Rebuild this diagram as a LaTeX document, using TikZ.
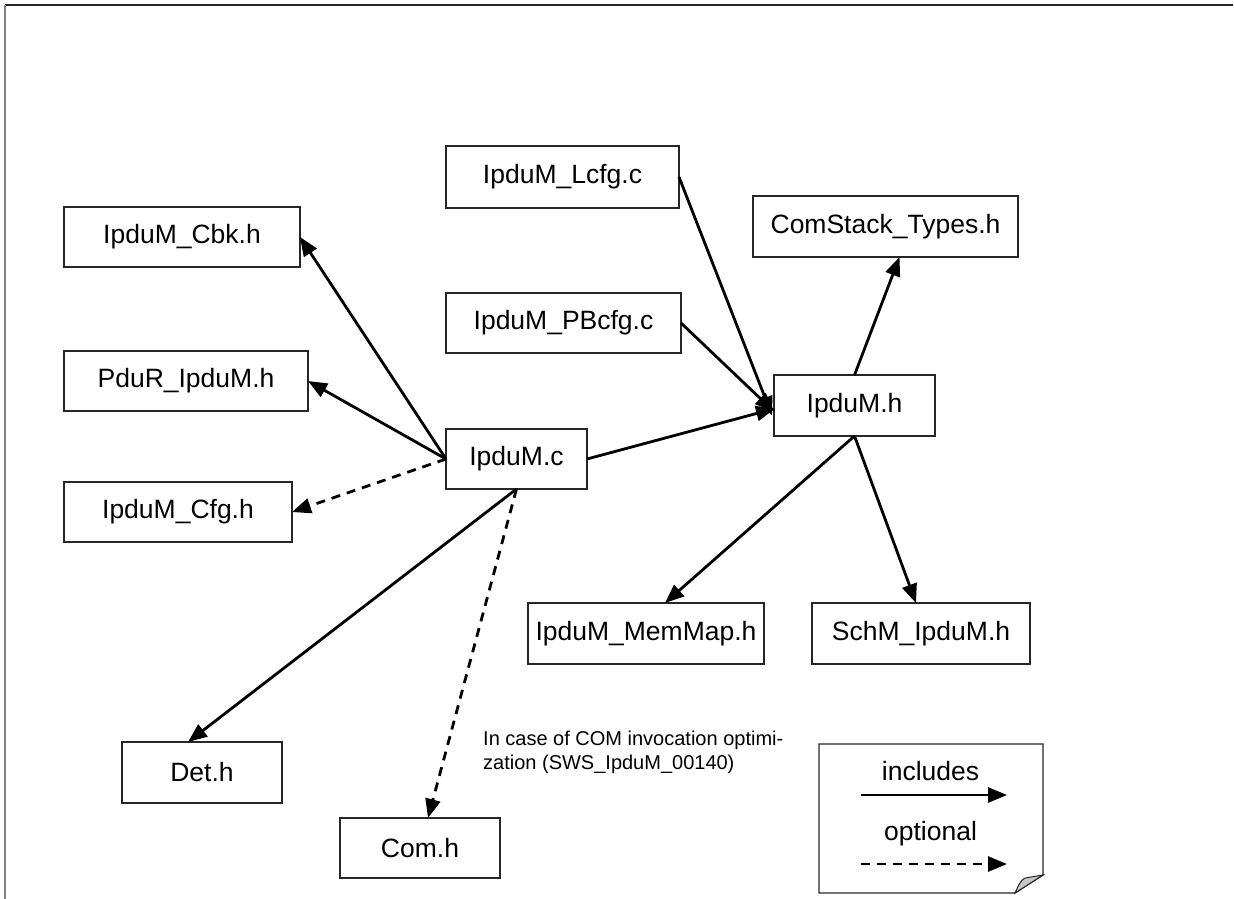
\documentclass[tikz,border=0pt]{standalone}
\usepackage{fontspec}
\setmainfont{Liberation Sans}
\usetikzlibrary{arrows.meta,calc}
\begin{document}
\begin{tikzpicture}[x=1pt,y=-1pt,
  box/.style={draw=black!85,line width=1.3pt,inner sep=0pt,outer sep=0pt,font=\fontsize{26.5}{30}\selectfont},
  inc/.style={line width=2.8pt,-{Triangle[length=19pt,width=15pt]}},
  opt/.style={inc,dash pattern=on 9pt off 7pt},
  lbl/.style={inner sep=0pt,font=\fontsize{26.5}{30}\selectfont}]
\useasboundingbox (0,0) rectangle (1234,899);
% frame
\draw[black!85,line width=2pt] (5,5) -- (1233,5);
\draw[gray,line width=2pt] (5,5) -- (5,899);
% boxes
\node[box,minimum width=233pt,minimum height=62pt] (lcfg) at (562.5,177) {IpduM\_Lcfg.c};
\node[box,minimum width=265pt,minimum height=61pt] (cs) at (885.5,226.5) {ComStack\_Types.h};
\node[box,minimum width=236pt,minimum height=60pt] (cbk) at (182,237) {IpduM\_Cbk.h};
\node[box,minimum width=235pt,minimum height=60pt] (pb) at (563.5,323) {IpduM\_PBcfg.c};
\node[box,minimum width=244pt,minimum height=60pt] (pdur) at (186,381) {PduR\_IpduM.h};
\node[box,minimum width=161pt,minimum height=61pt] (h) at (854.5,405.5) {IpduM.h};
\node[box,minimum width=141pt,minimum height=60pt] (c) at (516.5,459) {IpduM.c};
\node[box,minimum width=228pt,minimum height=60pt] (cfg) at (178,512) {IpduM\_Cfg.h};
\node[box,minimum width=236pt,minimum height=61pt] (mm) at (646,633.5) {IpduM\_MemMap.h};
\node[box,minimum width=218pt,minimum height=61pt] (schm) at (921,633.5) {SchM\_IpduM.h};
\node[box,minimum width=160pt,minimum height=61pt] (det) at (202,772.5) {Det.h};
\node[box,minimum width=160pt,minimum height=60pt] (com) at (420,848) {Com.h};
% connectors
\draw[inc] (c.west) -- (cbk.east);
\draw[inc] (c.west) -- (pdur.east);
\draw[opt] (c.west) -- (cfg.east);
\draw[inc] (c.east) -- ($(h.west)+(1,3)$);
\draw[inc] (lcfg.east) -- ($(h.west)+(-2,10)$);
\draw[inc] (pb.east) -- ($(h.west)+(0,6)$);
\draw[inc] (h.north) -- ($(cs.south)+(14,0)$);
\draw[inc] (h.south) -- ($(mm.north)+(19,0)$);
\draw[inc] (h.south) -- ($(schm.north)+(-5,0)$);
\draw[inc] (c.south) -- ($(det.north)+(-14,0)$);
\draw[opt] (c.south) -- ($(com.north)+(8,0)$);
% note
\node[anchor=north west,align=left,inner sep=0pt,font=\fontsize{20}{24}\selectfont] (note) at (483,730.5) {In case of COM invocation optimi-\\zation (SWS\_IpduM\_00140)};
% legend
\draw[black!85,line width=1.3pt] (819,744) -- (1043,744) -- (1043,875) -- (1015,893) -- (819,893) -- cycle;
\filldraw[draw=black!85,fill=gray!45,line width=1pt] (1015,893) .. controls (1019,884) and (1021,880) .. (1025,878) -- (1043,875) -- cycle;
\node[lbl,anchor=base] (linc) at (930.5,780) {includes};
\node[lbl,anchor=base] (lopt) at (930.5,840) {optional};
\coordinate (l1a) at (861,795);
\coordinate (l1b) at (1007,795);
\coordinate (l2a) at (861,864);
\coordinate (l2b) at (1007,864);
\draw[inc] (l1a) -- (l1b);
\draw[opt] (l2a) -- (l2b);
\end{tikzpicture}
\end{document}
